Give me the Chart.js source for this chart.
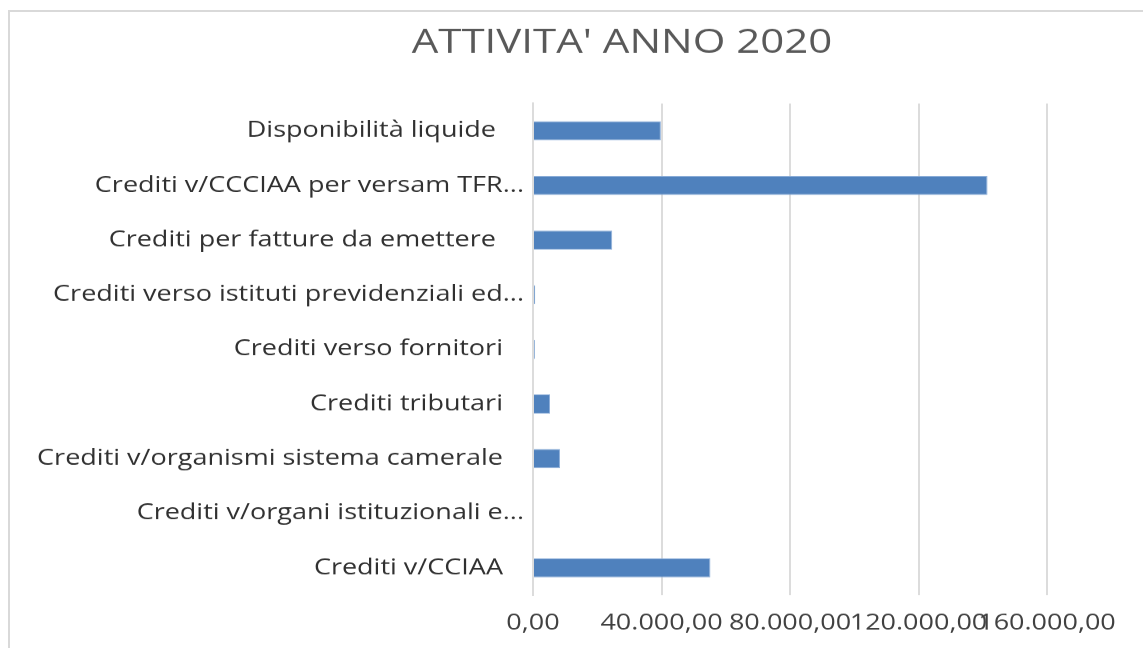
<!DOCTYPE html>
<html>
<head>
<meta charset="utf-8">
<script src="https://cdn.jsdelivr.net/npm/chart.js@4/dist/chart.umd.min.js"></script>
<style>
  html, body { margin: 0; padding: 0; background: #fff; overflow: hidden; }
  #frame {
    position: absolute; left: 8px; top: 10px; width: 1200px; height: 700px;
    border: 2px solid #d9d9d9; box-sizing: border-box;
  }
  /* the original picture is squashed vertically, so draw taller and squash */
  #wrap {
    position: absolute; left: 0; top: 0; width: 1143px; height: 810px;
    transform: scaleY(0.8); transform-origin: 0 0;
  }
</style>
</head>
<body>
<div id="frame"></div>
<div id="wrap"><canvas id="bar-chart" width="1143" height="810"></canvas></div>
<script>
var categories = [
  'Disponibilità liquide    ',
  'Crediti v/CCCIAA per versam TFR...',
  'Crediti per fatture da emettere    ',
  'Crediti verso istituti previdenziali ed...',
  'Crediti verso fornitori   ',
  'Crediti tributari   ',
  'Crediti v/organismi sistema camerale   ',
  'Crediti v/organi istituzionali e...',
  'Crediti v/CCIAA   '
];
var values = [39810, 141500, 24670, 700, 600, 5300, 8400, 0, 55240];
var tickValues = [0, 40000, 80000, 120000, 160000];

function itNumber( v ) {
  var parts = Math.round(v).toString().replace(/\B(?=(\d{3})+(?!\d))/g, '.');
  return parts + ',00';
}

// title in the original sits right of the middle
var shiftTitle = {
  id: 'shiftTitle',
  afterLayout: function( chart ) {
    if (chart.titleBlock) chart.titleBlock.left = 197;
  }
};

var barChart = new Chart(
  document.getElementById('bar-chart').getContext('2d'),
  {
    type: 'bar',
    data: {
      labels: categories,
      datasets: [{
        data: values,
        backgroundColor: '#4f81bd',
        borderColor: '#8fb0da',
        borderWidth: 1,
        categoryPercentage: 1,
        barPercentage: 0.35
      }]
    },
    plugins: [ shiftTitle ],
    options: {
      indexAxis: 'y',
      responsive: false,
      animation: false,
      layout: { padding: { left: 0, right: 96, top: 0, bottom: 0 } },
      plugins: {
        legend: { display: false },
        tooltip: { enabled: false },
        title: {
          display: true,
          text: "ATTIVITA' ANNO 2020",
          color: '#595959',
          font: { family: 'Open Sans', size: 42, weight: 'normal' },
          padding: { top: 29, bottom: 50 }
        }
      },
      scales: {
        x: {
          min: 0,
          max: 160000,
          afterBuildTicks: function( scale ) {
            scale.ticks = tickValues.map(function( v ) { return { value: v }; });
          },
          afterFit: function( scale ) { scale.height = 66; },
          grid: { color: '#dcdcdc', lineWidth: 2, drawTicks: false },
          border: { display: false },
          ticks: {
            autoSkip: false,
            maxRotation: 0,
            minRotation: 0,
            padding: 19,
            color: '#404040',
            font: { family: 'Open Sans', size: 27 },
            callback: function( v ) { return itNumber(v); }
          }
        },
        y: {
          afterFit: function( scale ) { scale.width = 533; },
          grid: { display: false },
          border: { display: true, color: '#dcdcdc', width: 2 },
          ticks: {
            padding: 1,
            color: '#303030',
            font: { family: 'Open Sans', size: 27 }
          }
        }
      }
    }
  }
);
</script>
</body>
</html>
